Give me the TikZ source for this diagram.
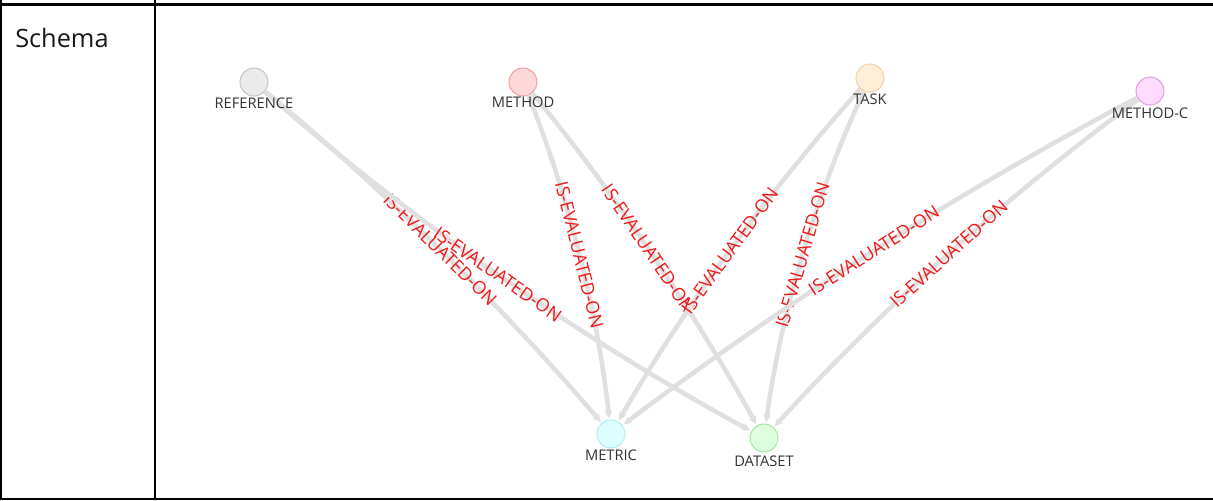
\documentclass[tikz,border=0pt]{standalone}
\usepackage{fontspec}
\setmainfont{Open Sans}
\usetikzlibrary{arrows.meta,calc}
\definecolor{refFill}{HTML}{EBEBEB}\definecolor{refLine}{HTML}{C4C4C4}
\definecolor{methFill}{HTML}{FFD9D9}\definecolor{methLine}{HTML}{F0A0A0}
\definecolor{taskFill}{HTML}{FFEFD9}\definecolor{taskLine}{HTML}{F5D2A6}
\definecolor{mcFill}{HTML}{FFDBFF}\definecolor{mcLine}{HTML}{DDA0DD}
\definecolor{metFill}{HTML}{DDFFFF}\definecolor{metLine}{HTML}{B0EEEE}
\definecolor{dsFill}{HTML}{DDFFDD}\definecolor{dsLine}{HTML}{A8E4A8}
\definecolor{edgeGray}{HTML}{E0E0E0}
\definecolor{relRed}{HTML}{F01818}
\definecolor{nameGray}{HTML}{333333}
\tikzset{
  ent/.style={circle, draw, line width=0.75pt, minimum size=21pt, inner sep=0pt},
  entname/.style={font=\fontsize{11}{13}\selectfont, text=nameGray, inner sep=0pt},
  rel/.style={-{Stealth[length=6pt,width=6pt]}, draw=edgeGray, line width=3.4pt, shorten >=1pt},
  rellbl/.style={sloped, midway, text=relRed, font=\fontsize{13.5}{15}\selectfont, inner sep=0pt},
  rule/.style={line width=2.2pt, draw=black}
}
% curved relation: quadratic bend point #3 turned into cubic control points
\newcommand\relcurve[4]{%
  \coordinate (#4a) at ($(#1)!2/3!(#3)$);
  \coordinate (#4b) at ($(#2)!2/3!(#3)$);
  \draw[rel] (#1) .. controls (#4a) and (#4b) .. node[rellbl]{IS-EVALUATED-ON} (#2);
}
\begin{document}
\begin{tikzpicture}[x=0.75pt, y=-0.75pt]
  \useasboundingbox (0,0) rectangle (1213,500);
  \fill[white] (0,0) rectangle (1213,500);
  % table rules
  \draw[rule] (0,4.5) -- (1213,4.5);
  \draw[rule] (155,0) -- (155,500);
  \draw[line width=1.5pt] (0.75,0) -- (0.75,500);
  \draw[line width=1.5pt] (0,498.5) -- (1213,498.5);
  \node[anchor=base west, inner sep=0pt, font=\fontsize{19}{22}\selectfont, text=black!90] (hdr) at (15,47) {Schema};
  % entities
  \node[ent, fill=refFill, draw=refLine] (ref) at (254,82) {};
  \node[ent, fill=methFill, draw=methLine] (meth) at (523,82) {};
  \node[ent, fill=taskFill, draw=taskLine] (task) at (870,78) {};
  \node[ent, fill=mcFill, draw=mcLine] (mc) at (1150,91) {};
  \node[ent, fill=metFill, draw=metLine] (met) at (611,434) {};
  \node[ent, fill=dsFill, draw=dsLine] (ds) at (764,438) {};
  % bend points of the relations
  \coordinate (q1) at (447.5,242);
  \coordinate (q2) at (487,288);
  \coordinate (q3) at (591,252);
  \coordinate (q4) at (652.5,238);
  \coordinate (q5) at (719.5,246);
  \coordinate (q6) at (789,252);
  \coordinate (q7) at (867.5,239.5);
  \coordinate (q8) at (941,243.5);
  % relations
  \relcurve{ref}{met}{q1}{k1}
  \relcurve{ref}{ds}{q2}{k2}
  \relcurve{meth}{met}{q3}{k3}
  \relcurve{meth}{ds}{q4}{k4}
  \relcurve{task}{met}{q5}{k5}
  \relcurve{task}{ds}{q6}{k6}
  \relcurve{mc}{met}{q7}{k7}
  \relcurve{mc}{ds}{q8}{k8}
  % entity names
  \node[entname] (refN) at (254,103) {REFERENCE};
  \node[entname] (methN) at (523,102) {METHOD};
  \node[entname] (taskN) at (870,99) {TASK};
  \node[entname] (mcN) at (1150,113) {METHOD-C};
  \node[entname] (metN) at (611,455) {METRIC};
  \node[entname] (dsN) at (764,461) {DATASET};
\end{tikzpicture}
\end{document}
